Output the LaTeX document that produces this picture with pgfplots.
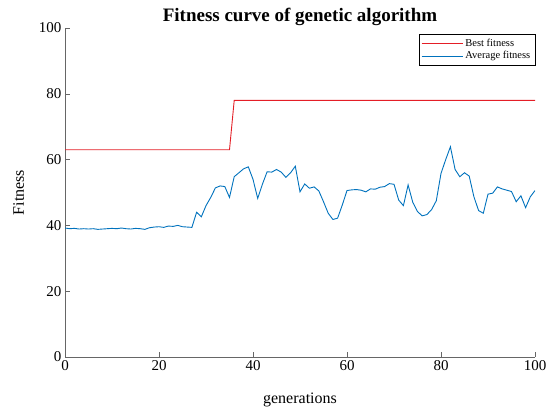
\documentclass[border=0pt]{standalone}
\usepackage{pgfplots}
\pgfplotsset{compat=1.18}
\usepackage{fontspec}
\setmainfont{Liberation Serif}
\definecolor{mred}{RGB}{228,30,38}
\definecolor{mblue}{RGB}{0,114,189}
\begin{document}
\begin{tikzpicture}
\useasboundingbox (-65pt,-51pt) rectangle (483pt,357pt);
\begin{axis}[
  at={(0,0)}, anchor=south west,
  scale only axis, width=470pt, height=329pt,
  xmin=0, xmax=100, ymin=0, ymax=100,
  xtick={0,20,...,100}, ytick={0,20,...,100},
  axis x line*=bottom, axis y line*=left,
  axis line style={gray!80!black, line width=0.6pt, -},
  tick style={gray!80!black, line width=0.6pt},
  tick align=inside, major tick length=5pt,
  /pgf/number format/assume math mode=true,
  tick label style={font=\fontsize{15}{17}\selectfont},
  xlabel={generations}, ylabel={Fitness},
  label style={font=\fontsize{16}{18}\selectfont},
  xlabel style={yshift=-15pt},
  ylabel style={yshift=8pt},
  title={\textbf{Fitness curve of genetic algorithm}},
  title style={font=\fontsize{19}{21}\selectfont, yshift=-7pt},
  legend style={at={(1,0.982)}, anchor=north east, font=\fontsize{10.5}{11.5}\selectfont,
    draw=black, line width=0.5pt, inner sep=2.5pt, row sep=0pt},
  legend cell align=left,
  legend image code/.code={\draw[#1] (0cm,0cm) -- (1.45cm,0cm);},
]
\addplot[mred, line width=0.9pt] coordinates {
(0,63) (35,63) (36,78) (100,78)
};
\addlegendentry{Best fitness}
\addplot[mblue, line width=0.9pt] coordinates {
(0,39.2) (1,39.0) (2,39.1) (3,38.9) (4,39.0) (5,38.9) (6,39.0) (7,38.8) (8,38.9) (9,39.0)
(10,39.1) (11,39.0) (12,39.2) (13,39.0) (14,38.9) (15,39.1) (16,39.0) (17,38.8) (18,39.3) (19,39.5)
(20,39.6) (21,39.4) (22,39.8) (23,39.7) (24,40.0) (25,39.6) (26,39.5) (27,39.4) (28,44.0) (29,42.6)
(30,46.0) (31,48.5) (32,51.4) (33,52.0) (34,51.8) (35,48.5) (36,54.8) (37,56.0) (38,57.2) (39,57.8)
(40,54.0) (41,48.2) (42,52.5) (43,56.3) (44,56.2) (45,57.0) (46,56.2) (47,54.6) (48,56.0) (49,58.0)
(50,50.2) (51,52.6) (52,51.3) (53,51.7) (54,50.5) (55,47.2) (56,43.7) (57,41.8) (58,42.2) (59,46.2)
(60,50.6) (61,50.8) (62,50.9) (63,50.7) (64,50.2) (65,51.1) (66,51.0) (67,51.6) (68,51.8) (69,52.7)
(70,52.5) (71,47.7) (72,46.0) (73,52.3) (74,47.0) (75,44.2) (76,42.9) (77,43.3) (78,44.8) (79,47.5)
(80,55.8) (81,60.0) (82,63.9) (83,57.0) (84,54.8) (85,56.0) (86,55.0) (87,48.7) (88,44.5) (89,43.7)
(90,49.5) (91,49.8) (92,51.7) (93,51.1) (94,50.7) (95,50.3) (96,47.2) (97,49.0) (98,45.4) (99,48.7)
(100,50.6)
};
\addlegendentry{Average fitness}
\end{axis}
\end{tikzpicture}
\end{document}
